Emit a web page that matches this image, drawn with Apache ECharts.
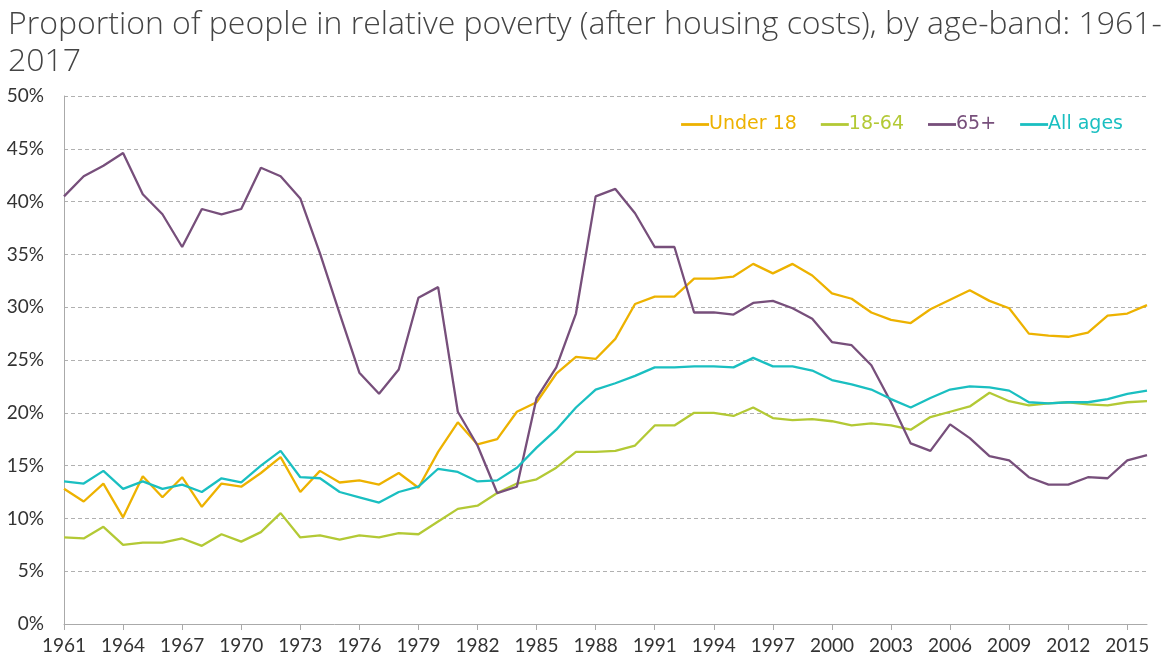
<!DOCTYPE html>
<html>
<head>
<meta charset="utf-8">
<style>
  html, body { margin: 0; padding: 0; background: #fff; }
  #chart { width: 1164px; height: 664px; }
</style>
<script src="https://cdn.jsdelivr.net/npm/echarts@6/dist/echarts.min.js"></script>
</head>
<body>
<div id="chart"></div>
<script>
const years = []
for (let y = 1961; y <= 2016; y++) years.push(String(y))

const under18 = [12.8, 11.6, 13.3, 10.1, 14.0, 12.0, 13.9, 11.1, 13.3, 13.0,
  14.3, 15.8, 12.5, 14.5, 13.4, 13.6, 13.2, 14.3, 12.9, 16.3,
  19.1, 17.0, 17.5, 20.1, 21.0, 23.7, 25.3, 25.1, 27.0, 30.3,
  31.0, 31.0, 32.7, 32.7, 32.9, 34.1, 33.2, 34.1, 33.0, 31.3,
  30.8, 29.5, 28.8, 28.5, 29.8, 30.7, 31.6, 30.6, 29.9, 27.5,
  27.3, 27.2, 27.6, 29.2, 29.4, 30.2]

const age18to64 = [8.2, 8.1, 9.2, 7.5, 7.7, 7.7, 8.1, 7.4, 8.5, 7.8,
  8.7, 10.5, 8.2, 8.4, 8.0, 8.4, 8.2, 8.6, 8.5, 9.7,
  10.9, 11.2, 12.4, 13.3, 13.7, 14.8, 16.3, 16.3, 16.4, 16.9,
  18.8, 18.8, 20.0, 20.0, 19.7, 20.5, 19.5, 19.3, 19.4, 19.2,
  18.8, 19.0, 18.8, 18.4, 19.6, 20.1, 20.6, 21.9, 21.1, 20.7,
  20.9, 21.0, 20.8, 20.7, 21.0, 21.1]

const age65plus = [40.5, 42.4, 43.4, 44.6, 40.7, 38.8, 35.7, 39.3, 38.8, 39.3,
  43.2, 42.4, 40.3, 35.1, 29.4, 23.8, 21.8, 24.1, 30.9, 31.9,
  20.1, 16.9, 12.4, 13.0, 21.4, 24.3, 29.4, 40.5, 41.2, 38.9,
  35.7, 35.7, 29.5, 29.5, 29.3, 30.4, 30.6, 29.9, 28.9, 26.7,
  26.4, 24.5, 21.0, 17.1, 16.4, 18.9, 17.6, 15.9, 15.5, 13.9,
  13.2, 13.2, 13.9, 13.8, 15.5, 16.0]

const allAges = [13.5, 13.3, 14.5, 12.8, 13.5, 12.8, 13.2, 12.5, 13.8, 13.4,
  15.0, 16.4, 13.9, 13.8, 12.5, 12.0, 11.5, 12.5, 13.0, 14.7,
  14.4, 13.5, 13.6, 14.8, 16.7, 18.4, 20.5, 22.2, 22.8, 23.5,
  24.3, 24.3, 24.4, 24.4, 24.3, 25.2, 24.4, 24.4, 24.0, 23.1,
  22.7, 22.2, 21.3, 20.5, 21.4, 22.2, 22.5, 22.4, 22.1, 21.0,
  20.9, 21.0, 21.0, 21.3, 21.8, 22.1]

const seriesNames = ['Under 18', '18-64', '65+', 'All ages']
const seriesData = [under18, age18to64, age65plus, allAges]
const Colors = ['#EDB200', '#B3C935', '#774F7B', '#1ABFC1']

const FONT = 'Lato, "Open Sans", sans-serif'

const chart = echarts.init(document.getElementById('chart'))

chart.setOption({
  animation: false,
  textStyle: { fontFamily: FONT },
  title: {
    text: 'Proportion of people in relative poverty (after housing costs), by age-band: 1961-\n2017',
    left: 3,
    top: 1,
    textStyle: {
      fontFamily: '"Open Sans", sans-serif',
      fontSize: 32,
      fontWeight: 300,
      color: '#444',
      lineHeight: 37
    }
  },
  legend: {
    right: 36,
    top: 110,
    icon: 'path://M0,0 L1,0 L1,0.1 L0,0.1 Z',
    itemWidth: 28,
    itemHeight: 3,
    itemGap: 24,
    textStyle: { fontSize: 19, fontFamily: '"DejaVu Sans", sans-serif', padding: [0, 0, 0, -5] },
    data: seriesNames.map((name, i) => ({
      name,
      itemStyle: { color: Colors[i] },
      textStyle: { color: Colors[i] }
    }))
  },
  grid: {
    left: 64,
    right: 17,
    top: 96,
    bottom: 40
  },
  xAxis: {
    type: 'category',
    boundaryGap: false,
    data: years,
    axisLine: { lineStyle: { color: '#aaa', width: 1 } },
    axisTick: {
      interval: 2,
      length: 6,
      lineStyle: { color: '#aaa' }
    },
    axisLabel: {
      interval: 2,
      color: '#333',
      fontSize: 19,
      margin: 12,
      fontFamily: FONT
    },
    splitLine: { show: false }
  },
  yAxis: {
    type: 'value',
    min: 0,
    max: 50,
    interval: 5,
    axisLine: { show: true, lineStyle: { color: '#aaa', width: 1 } },
    axisTick: { show: false },
    axisLabel: {
      formatter: '{value}%',
      color: '#333',
      fontSize: 19,
      margin: 20,
      fontFamily: FONT
    },
    splitLine: {
      lineStyle: { color: '#b0b0b0', type: [4, 3], width: 1 }
    }
  },
  series: seriesNames.map((name, i) => ({
    name,
    type: 'line',
    symbol: 'none',
    lineStyle: { color: Colors[i], width: 2.3 },
    itemStyle: { color: Colors[i] },
    data: seriesData[i]
  }))
})
</script>
</body>
</html>
